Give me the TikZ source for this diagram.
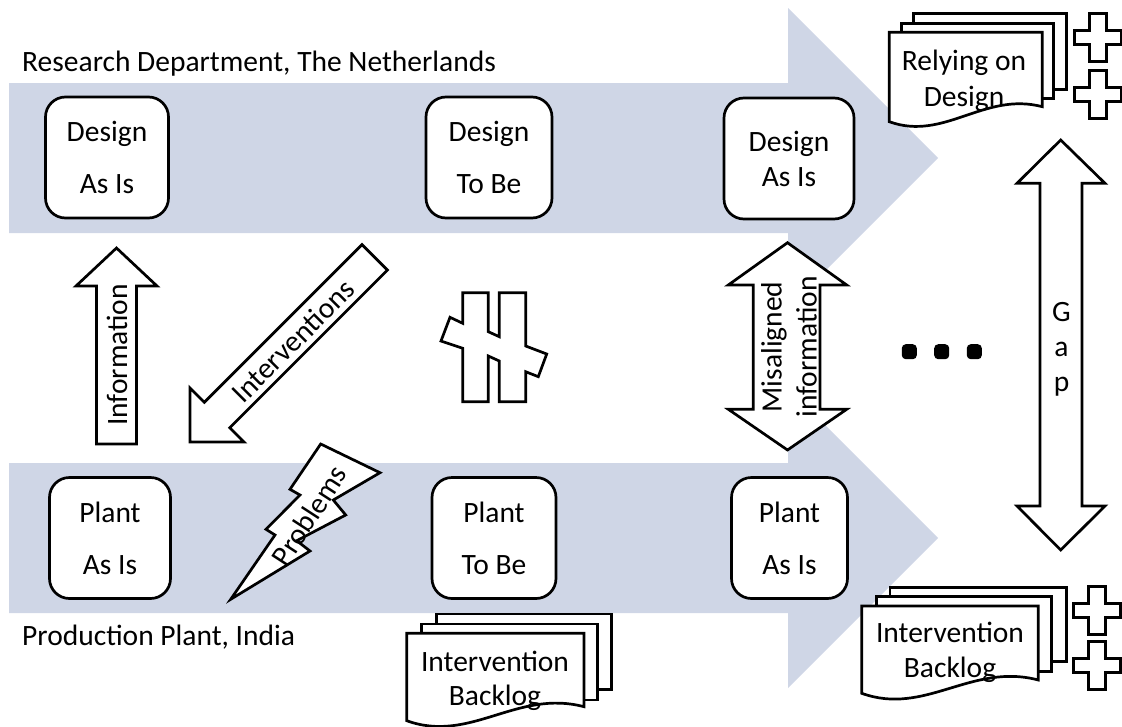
\documentclass[tikz,border=0pt]{standalone}
\usepackage{fontspec}
\setmainfont{Carlito}
\definecolor{bandblue}{RGB}{207,214,230}
\newcommand\mydocback[4]{\draw[shapeline] (#1,#2) rectangle ++(#3,#4);}
\newcommand\mydocfront[5]{\draw[shapeline] (#1,#2) -- (#1+#3,#2) -- (#1+#3,#2+#5) .. controls (#1+0.62*#3,#2+#5-0.10*#3) and (#1+0.36*#3,#2+#4+0.13*#3) .. (#1,#2+#4) -- cycle;}
\newcommand\myplus[2]{\draw[shapeline] (#1-8.5,#2-24) -- (#1+8.5,#2-24) -- (#1+8.5,#2-7) -- (#1+23.5,#2-7) -- (#1+23.5,#2+7) -- (#1+8.5,#2+7) -- (#1+8.5,#2+24) -- (#1-8.5,#2+24) -- (#1-8.5,#2+7) -- (#1-23.5,#2+7) -- (#1-23.5,#2-7) -- (#1-8.5,#2-7) -- cycle;}
\begin{document}
\begin{tikzpicture}[x=1pt, y=-1pt,
  shapeline/.style={draw=black, line width=2.7pt, fill=white, line join=miter},
  band/.style={fill=bandblue, draw=none},
  stepbox/.style={shapeline, rounded corners=20pt, minimum height=121pt, inner sep=0pt, align=center, font=\fontsize{29.5}{52}\selectfont},
  txt/.style={inner sep=0pt, font=\fontsize{29.5}{35}\selectfont},
  dotsq/.style={fill=black, draw=none, rounded corners=4pt, minimum size=15pt, inner sep=0pt}]
\useasboundingbox (0,0) rectangle (1122,726);
% big blue arrows
\fill[band] (9,83) -- (788,83) -- (788,8) -- (938,158) -- (788,308) -- (788,233) -- (9,233) -- cycle;
\fill[band] (9,463) -- (788,463) -- (788,388) -- (938,538) -- (788,688) -- (788,613) -- (9,613) -- cycle;
% labels
\node[txt, anchor=base west] (research) at (22,71) {Research Department, The Netherlands};
\node[txt, anchor=base west] (production) at (22,645) {Production Plant, India};
% boxes
\node[stepbox, minimum width=123pt] (dAsIsL) at (107,157.5) {Design\\As Is};
\node[stepbox, minimum width=126pt] (dToBe) at (489,157.5) {Design\\To Be};
\node[stepbox, minimum width=130pt, font=\fontsize{29.5}{35}\selectfont] (dAsIsR) at (789,158.5) {Design\\As Is};
\node[stepbox, minimum width=121pt] (pAsIsL) at (110,538) {Plant\\As Is};
\node[stepbox, minimum width=124pt] (pToBe) at (494,538) {Plant\\To Be};
\node[stepbox, minimum width=116pt] (pAsIsR) at (789.5,538) {Plant\\As Is};
% Information arrow
\draw[shapeline] (116.5,248) -- (157,286) -- (136.5,286) -- (136.5,444) -- (96.5,444) -- (96.5,286) -- (76,286) -- cycle;
\node[txt, rotate=90] (info) at (117,355) {Information};
% Interventions arrow
\draw[shapeline] (190,442) -- (244,442) -- (229.7,427.7) -- (387.4,270) -- (362,244.6) -- (204.3,402.3) -- (190,388) -- cycle;
\node[txt, rotate=45] (interv) at (293,341) {Interventions};
% Problems lightning
\draw[shapeline] (320.7,444) -- (380,472.7) -- (333.3,500) -- (345.7,515) -- (296.7,540.7) -- (310,551) -- (230.7,599.3) -- (275,535) -- (266,529.3) -- (300,495) -- (290,489.3) -- cycle;
\node[txt, rotate=57] (probl) at (309,516) {Problems};
% not-equal hash
\draw[shapeline] (462.7,292.7) -- (488.3,292.7) -- (488.3,331.7) -- (499.3,336.7) -- (499.3,292.7) -- (525.7,292.7) -- (525.7,346) -- (546.7,354) -- (538.3,376.7) -- (525.7,371.7) -- (525.7,401.7) -- (499.3,401.7) -- (499.3,361) -- (488.3,356) -- (488.3,401.7) -- (462.7,401.7) -- (462.7,348.3) -- (441,341) -- (450,317.3) -- (462.7,323.3) -- cycle;
% Misaligned information arrow
\draw[shapeline] (787.5,242.7) -- (846.7,285) -- (820,285) -- (820,409.3) -- (846.7,409.3) -- (787.5,450) -- (728.3,409.3) -- (753.3,409.3) -- (753.3,285) -- (728.3,285) -- cycle;
\node[txt, rotate=90, align=center, font=\fontsize{29.5}{35}\selectfont] (misal) at (789,347) {Misaligned\\information};
% dots
\node[dotsq] (dot1) at (909.3,351.7) {};
\node[dotsq] (dot2) at (941.7,351.7) {};
\node[dotsq] (dot3) at (974.3,351.7) {};
% Gap arrow
\draw[shapeline] (1060.7,140) -- (1105,183.3) -- (1082,183.3) -- (1082,506) -- (1105,506) -- (1060.7,550) -- (1017,506) -- (1040,506) -- (1040,183.3) -- (1017,183.3) -- cycle;
\node[txt, anchor=base] (gapG) at (1061.5,321) {G};
\node[txt, anchor=base] (gapA) at (1061.5,356) {a};
\node[txt, anchor=base] (gapP) at (1061.5,391) {p};
% Relying on Design stack
\mydocback{913.3}{13.3}{153.4}{76}
\mydocback{901.7}{23.3}{151.6}{75}
\mydocfront{889.3}{32.3}{153}{89.4}{74.4}
\node[txt, anchor=base] (rely1) at (964,70) {Relying on};
\node[txt, anchor=base] (rely2) at (964,106) {Design};
\myplus{1098.3}{37.5}
\myplus{1098.3}{94.2}
% Intervention backlog (middle)
\mydocback{436.7}{614}{175}{75.3}
\mydocback{421.7}{624}{175.6}{76}
\mydocfront{406.7}{633.3}{177.3}{87.4}{73.4}
\node[txt, anchor=base] (ib1) at (495,671) {Intervention};
\node[txt, anchor=base] (ib2) at (495,705) {Backlog};
% Intervention backlog (right)
\mydocback{890}{587.3}{176.7}{74.4}
\mydocback{876.7}{596.7}{175}{75}
\mydocfront{861.7}{606}{176.6}{87.3}{74}
\node[txt, anchor=base] (ibr1) at (950,642) {Intervention};
\node[txt, anchor=base] (ibr2) at (950,677) {Backlog};
\myplus{1096.7}{610.3}
\myplus{1096.7}{665.8}
\end{tikzpicture}
\end{document}
